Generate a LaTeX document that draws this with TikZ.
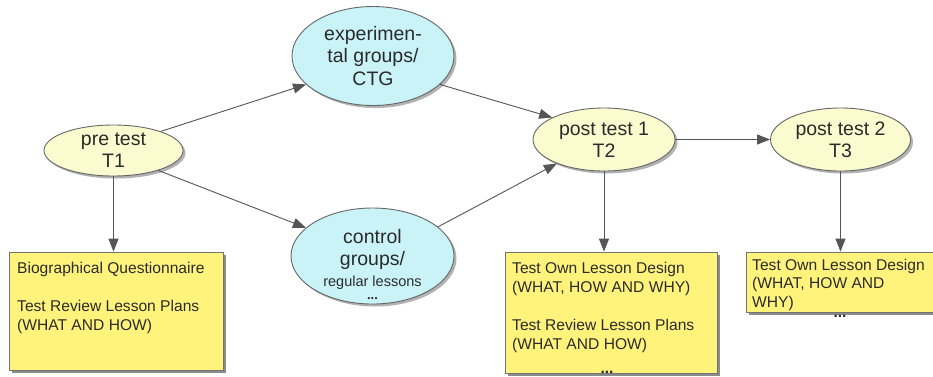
\documentclass[tikz,border=0pt]{standalone}
\usepackage{fontspec}
\setmainfont{Liberation Sans}
\usetikzlibrary{arrows.meta,shapes.geometric,shadows,calc}
\definecolor{ellY}{HTML}{FBFBD0}
\definecolor{ellC}{HTML}{C9F3F7}
\definecolor{boxY}{HTML}{FFF37C}
\definecolor{lineG}{HTML}{555555}
\definecolor{txt}{HTML}{2B2B2B}
\begin{document}
\begin{tikzpicture}[x=1pt,y=-1pt,
  ell/.style={ellipse, draw=black!60, line width=0.9pt, inner sep=0pt, align=center,
    text=txt, font=\fontsize{19.5}{22.3}\selectfont,
    drop shadow={shadow xshift=2.5pt,shadow yshift=-2.5pt,fill=black!30,opacity=1}},
  ellY/.style={ell, fill=ellY},
  ellC/.style={ell, fill=ellC},
  notebox/.style={rectangle, draw=black!55, line width=0.8pt, fill=boxY, inner sep=0pt,
    drop shadow={shadow xshift=3pt,shadow yshift=-3pt,fill=black!45,opacity=1}},
  notetext/.style={anchor=north west, inner sep=0pt, align=left, text=txt,
    font=\fontsize{15.6}{19}\selectfont},
  arr/.style={draw=lineG, line width=0.9pt, -{Triangle[length=13pt,width=10pt]}},
  dotmark/.style={inner sep=0pt, text=txt, font=\fontsize{15.6}{19}\selectfont\bfseries}
]
\useasboundingbox (0,0) rectangle (933,376);
\fill[white] (0,0) rectangle (933,376);

% ellipses
\node[ellY, minimum width=139pt, minimum height=51pt] (pre) at (113.5,150.5) {pre test\\T1};
\node[ellC, minimum width=162pt, minimum height=99pt] (exp) at (373,56) {experimen-\\tal groups/\\CTG};
\node[ellC, minimum width=163pt, minimum height=96pt] (ctrl) at (372.5,256) {};
\node[inner sep=0pt, anchor=north, align=center, text=txt, font=\fontsize{19.5}{22.3}\selectfont]
  (ctrltext) at (372.5,228.7)
  {control\\groups/\\[-1.3pt]{\fontsize{14.5}{17}\selectfont regular lessons}\\[-9pt]{\fontsize{13}{13}\selectfont\bfseries ...}};
\node[ellY, minimum width=142pt, minimum height=63pt] (post1) at (604,139.5) {post test 1\\T2};
\node[ellY, minimum width=140pt, minimum height=63pt] (post2) at (840.5,139.5) {post test 2\\T3};

% note boxes
\node[notebox, minimum width=214pt, minimum height=118pt] (box1) at (116,311) {};
\node[notetext] (box1text) at (17,261.7)
  {Biographical Questionnaire\\[19pt]Test Review Lesson Plans\\(WHAT AND HOW)};
\node[notebox, minimum width=212pt, minimum height=121pt] (box2) at (611,312.5) {};
\node[notetext] (box2text) at (512,261.7)
  {Test Own Lesson Design\\(WHAT, HOW AND WHY)\\[19pt]Test Review Lesson Plans\\(WHAT AND HOW)};
\node[notebox, minimum width=190pt, minimum height=60pt] (box3) at (841,282) {};
\node[notetext, font=\fontsize{15.6}{18.4}\selectfont] (box3text) at (752,258.7)
  {Test Own Lesson Design\\(WHAT, HOW AND\\WHY)};
\node[dotmark] (dots2) at (607,372.5) {...};
\node[dotmark] (dots3) at (840,316) {...};

% connectors
\draw[arr] (pre.22) -- (exp.203);
\draw[arr] (pre.-24) -- (ctrl.157);
\draw[arr] (exp.-23) -- (post1.157);
\draw[arr] (ctrl.24) -- (post1.207);
\draw[arr] (post1.east) -- (post2.west);
\draw[arr] (pre.south) -- (pre.south |- box1.north);
\draw[arr] (post1.south) -- (post1.south |- box2.north);
\draw[arr] (post2.south) -- (post2.south |- box3.north);
\end{tikzpicture}
\end{document}
